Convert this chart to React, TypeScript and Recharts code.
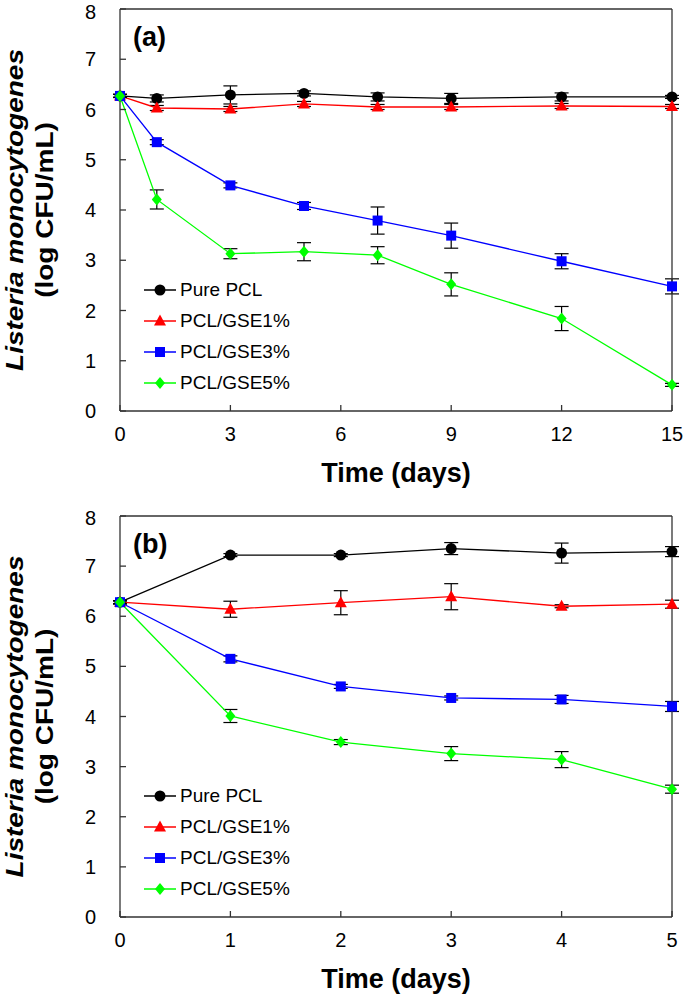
import React from "react";
import { LineChart, Line, XAxis, YAxis, ErrorBar, Legend } from "recharts";

// (a) 15-day storage
const DAYS_A = [0, 1, 3, 5, 7, 9, 12, 15];
const PURE_A = [6.27, 6.22, 6.29, 6.32, 6.25, 6.22, 6.25, 6.25];
const PURE_A_SD = [0.03, 0.07, 0.18, 0.05, 0.08, 0.1, 0.08, 0.03];
const GSE1_A = [6.27, 6.03, 6.01, 6.11, 6.05, 6.05, 6.07, 6.06];
const GSE1_A_SD = [0.03, 0.05, 0.05, 0.05, 0.05, 0.05, 0.05, 0.04];
const GSE3_A = [6.27, 5.35, 4.49, 4.08, 3.79, 3.49, 2.98, 2.48];
const GSE3_A_SD = [0.03, 0.05, 0.05, 0.07, 0.27, 0.25, 0.15, 0.15];
const GSE5_A = [6.27, 4.21, 3.13, 3.17, 3.1, 2.52, 1.84, 0.52];
const GSE5_A_SD = [0.03, 0.19, 0.1, 0.18, 0.17, 0.23, 0.24, 0.03];

// (b) 5-day storage
const DAYS_B = [0, 1, 2, 3, 4, 5];
const PURE_B = [6.28, 7.22, 7.22, 7.35, 7.26, 7.29];
const PURE_B_SD = [0.03, 0.03, 0.03, 0.12, 0.2, 0.1];
const GSE1_B = [6.28, 6.14, 6.27, 6.39, 6.2, 6.24];
const GSE1_B_SD = [0.03, 0.16, 0.24, 0.26, 0.03, 0.08];
const GSE3_B = [6.28, 5.15, 4.6, 4.37, 4.34, 4.2];
const GSE3_B_SD = [0.03, 0.06, 0.04, 0.04, 0.08, 0.1];
const GSE5_B = [6.28, 4.01, 3.49, 3.26, 3.14, 2.55];
const GSE5_B_SD = [0.03, 0.13, 0.05, 0.14, 0.16, 0.08];

const SERIES_NAMES = ["Pure PCL", "PCL/GSE1%", "PCL/GSE3%", "PCL/GSE5%"];
const SERIES_KEYS = ["pure", "gse1", "gse3", "gse5"];
const SERIES_COLORS = ["#000000", "#ff0000", "#0000ff", "#00ff00"];
const SERIES_SHAPES = ["circle", "triangle", "square", "diamond"];

const X_TICKS_A = [0, 3, 6, 9, 12, 15];
const X_TICKS_B = [0, 1, 2, 3, 4, 5];
const Y_TICKS = [0, 1, 2, 3, 4, 5, 6, 7, 8];

const FONT = "'Liberation Sans', Arial, sans-serif";
const AXIS = "#333";

function buildRows(days: number[], vals: number[][], sds: number[][]) {
  return days.map((d, i) => {
    const row: any = { day: d };
    SERIES_KEYS.forEach((k, s) => {
      row[k] = vals[s][i];
      row[k + "Sd"] = sds[s][i];
    });
    return row;
  });
}

const DATA_A = buildRows(
  DAYS_A,
  [PURE_A, GSE1_A, GSE3_A, GSE5_A],
  [PURE_A_SD, GSE1_A_SD, GSE3_A_SD, GSE5_A_SD]
);
const DATA_B = buildRows(
  DAYS_B,
  [PURE_B, GSE1_B, GSE3_B, GSE5_B],
  [PURE_B_SD, GSE1_B_SD, GSE3_B_SD, GSE5_B_SD]
);

function Marker({ cx, cy, shape, color }: any) {
  if (cx == null || cy == null) return null;
  if (shape === "circle") return <circle cx={cx} cy={cy} r={5.5} fill={color} />;
  if (shape === "square")
    return <rect x={cx - 5} y={cy - 5} width={10} height={10} fill={color} />;
  if (shape === "triangle")
    return (
      <polygon
        points={`${cx},${cy - 6.5} ${cx + 6},${cy + 4.5} ${cx - 6},${cy + 4.5}`}
        fill={color}
      />
    );
  return (
    <polygon
      points={`${cx},${cy - 6} ${cx + 5},${cy} ${cx},${cy + 6} ${cx - 5},${cy}`}
      fill={color}
    />
  );
}

function LegendBox() {
  return (
    <div style={{ fontFamily: FONT, fontSize: 19, color: "#000" }}>
      {SERIES_NAMES.map((name, i) => (
        <div
          key={name}
          style={{ display: "flex", alignItems: "center", height: 31 }}
        >
          <svg width={36} height={20} style={{ display: "block" }}>
            <line x1={2} x2={34} y1={10} y2={10} stroke={SERIES_COLORS[i]} strokeWidth={1.5} />
            <Marker cx={18} cy={10} shape={SERIES_SHAPES[i]} color={SERIES_COLORS[i]} />
          </svg>
          <span style={{ marginLeft: 2 }}>{name}</span>
        </div>
      ))}
    </div>
  );
}

// rotated y title, a bit squeezed across like the source figure
function SideTitle({ viewBox, tag }: any) {
  const cy = viewBox.y + viewBox.height / 2;
  return (
    <g fontFamily={FONT} fill="#000">
      <text
        transform={`translate(23, ${cy}) scale(0.85, 1) rotate(-90)`}
        textAnchor="middle"
        fontSize={28}
        fontWeight="bold"
        fontStyle="italic"
      >
        Listeria monocytogenes
      </text>
      <text
        transform={`translate(53, ${cy}) scale(0.85, 1) rotate(-90)`}
        textAnchor="middle"
        fontSize={28}
        fontWeight="bold"
      >
        (log CFU/mL)
      </text>
      <text x={133} y={viewBox.y + 37} fontSize={27} fontWeight="bold">
        {tag}
      </text>
    </g>
  );
}

function Panel({ data, xMax, xTicks, tag, height, margin }: any) {
  return (
    <LineChart width={685} height={height} data={data} margin={margin}>
      <XAxis
        dataKey="day"
        type="number"
        domain={[0, xMax]}
        ticks={xTicks}
        height={1}
        tickSize={-6}
        tickMargin={22}
        stroke={AXIS}
        strokeWidth={1.3}
        tick={{ fill: "#000", fontSize: 20, fontFamily: FONT }}
        label={{
          value: "Time (days)",
          position: "bottom",
          offset: 51,
          style: { fontSize: 27, fontWeight: "bold", fontFamily: FONT, fill: "#000" },
        }}
      />
      <XAxis
        xAxisId="top"
        orientation="top"
        type="number"
        domain={[0, xMax]}
        height={1}
        tick={false}
        stroke={AXIS}
        strokeWidth={1.3}
      />
      <YAxis
        type="number"
        domain={[0, 8]}
        ticks={Y_TICKS}
        width={1}
        tickSize={-6}
        tickMargin={30}
        stroke={AXIS}
        strokeWidth={1.3}
        tick={{ fill: "#000", fontSize: 20, fontFamily: FONT }}
        label={<SideTitle tag={tag} />}
      />
      <YAxis
        yAxisId="right"
        orientation="right"
        type="number"
        domain={[0, 8]}
        ticks={Y_TICKS}
        width={1}
        tickSize={-6}
        tickFormatter={() => ""}
        stroke={AXIS}
        strokeWidth={1.3}
      />
      {SERIES_KEYS.map((k, i) => (
        <Line
          key={k}
          dataKey={k}
          name={SERIES_NAMES[i]}
          type="linear"
          stroke={SERIES_COLORS[i]}
          strokeWidth={1.3}
          isAnimationActive={false}
          dot={(p: any) => (
            <Marker
              key={`${k}-${p.index}`}
              cx={p.cx}
              cy={p.cy}
              shape={SERIES_SHAPES[i]}
              color={SERIES_COLORS[i]}
            />
          )}
          activeDot={false}
        >
          <ErrorBar
            dataKey={k + "Sd"}
            direction="y"
            width={7}
            stroke="#000"
            strokeWidth={1.2}
            isAnimationActive={false}
          />
        </Line>
      ))}
      <Legend
        layout="vertical"
        align="center"
        verticalAlign="middle"
        wrapperStyle={{ left: 142, top: 274, width: 200 }}
        content={<LegendBox />}
      />
    </LineChart>
  );
}

export default function App() {
  return (
    <div
      style={{
        position: "absolute",
        left: 0,
        top: 0,
        width: 685,
        height: 996,
        background: "#fff",
      }}
    >
      <div style={{ position: "absolute", left: 0, top: 0 }}>
        <Panel
          data={DATA_A}
          xMax={15}
          xTicks={X_TICKS_A}
          tag="(a)"
          height={506}
          margin={{ top: 8, right: 12, bottom: 94, left: 119 }}
        />
      </div>
      <div style={{ position: "absolute", left: 0, top: 506 }}>
        <Panel
          data={DATA_B}
          xMax={5}
          xTicks={X_TICKS_B}
          tag="(b)"
          height={490}
          margin={{ top: 9, right: 12, bottom: 78, left: 119 }}
        />
      </div>
    </div>
  );
}
